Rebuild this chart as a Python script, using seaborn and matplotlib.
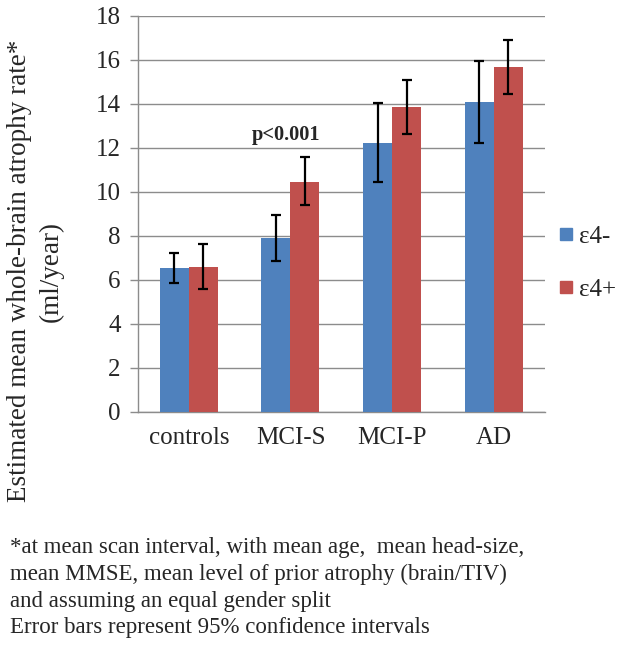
import pandas as pd
import matplotlib.pyplot as plt
import seaborn as sns
from matplotlib.lines import Line2D

# Data
groups = ['controls', 'MCI-S', 'MCI-P', 'AD']
series = ['ε4-', 'ε4+']
rate_neg = [6.53, 7.9, 12.24, 14.1]
rate_pos = [6.6, 10.47, 13.85, 15.7]
ci_low_neg = [5.85, 6.88, 10.47, 12.24]
ci_high_neg = [7.21, 8.95, 14.03, 15.95]
ci_low_pos = [5.58, 9.4, 12.64, 14.47]
ci_high_pos = [7.62, 11.6, 15.09, 16.89]
colors = ['#4F81BD', '#C0504D']
footnote = ("*at mean scan interval, with mean age,  mean head-size,\n"
            "mean MMSE, mean level of prior atrophy (brain/TIV)\n"
            "and assuming an equal gender split\n"
            "Error bars represent 95% confidence intervals")


def main():
    df = pd.DataFrame({
        'group': groups * 2,
        'apoe': [series[0]] * 4 + [series[1]] * 4,
        'rate': rate_neg + rate_pos,
    })

    sns.set_style("white")
    plt.rcParams['font.family'] = ['Liberation Serif', 'DejaVu Serif']

    fig = plt.figure(figsize=(6.24, 6.63), dpi=100)
    ax = fig.add_axes([0.221, 0.3786, 0.652, 0.5974])

    sns.barplot(data=df, x='group', y='rate', hue='apoe', palette=colors,
                saturation=1, width=0.57, gap=0, errorbar=None, linewidth=0,
                legend=False, ax=ax, zorder=3)

    # asymmetric 95% CI error bars
    lows = [ci_low_neg, ci_low_pos]
    highs = [ci_high_neg, ci_high_pos]
    means = [rate_neg, rate_pos]
    bar_sets = list(ax.containers)[:2]
    for k, cont in enumerate(bar_sets):
        xs = [b.get_x() + b.get_width() / 2 for b in cont]
        yerr = [[m - lo for m, lo in zip(means[k], lows[k])],
                [hi - m for m, hi in zip(means[k], highs[k])]]
        ax.errorbar(xs, means[k], yerr=yerr, fmt='none', ecolor='black',
                    elinewidth=1.6, capsize=3.5, capthick=1.6, zorder=4)

    ax.set_ylim(0, 18)
    ax.set_xlim(-0.5, 3.5)
    ax.set_yticks(range(0, 19, 2))
    ax.yaxis.grid(True, color='#8c8c8c', linewidth=1.0, zorder=0)
    ax.xaxis.grid(False)
    for side in ['top', 'right']:
        ax.spines[side].set_visible(False)
    for side in ['left', 'bottom']:
        ax.spines[side].set_color('#8c8c8c')
        ax.spines[side].set_linewidth(1.0)

    ax.set_xticks([-0.5, 0.5, 1.5, 2.5, 3.5], minor=True)
    ax.tick_params(axis='x', which='major', length=0, labelsize=18, pad=11)
    ax.tick_params(axis='x', which='minor', length=6, color='#8c8c8c', width=1)
    ax.tick_params(axis='y', length=6, color='#8c8c8c', width=1,
                   labelsize=18, pad=6.5, left=True)
    ax.set_xlabel('')
    ax.set_ylabel('')

    ax.text(0.96, 12.6, 'p<0.001', ha='center', va='center',
            fontsize=14.7, fontweight='bold')

    fig.text(0.056, 0.591, 'Estimated mean whole-brain atrophy rate*\n(ml/year)',
             rotation=90, ha='center', va='center', multialignment='center',
             fontsize=19.5, linespacing=1.34)

    handles = [Line2D([], [], marker='s', linestyle='none', markersize=9,
                      markerfacecolor=c, markeredgecolor=c) for c in colors]
    fig.legend(handles, series, loc='center left',
               bbox_to_anchor=(0.855, 0.603), frameon=False, fontsize=18,
               handletextpad=0.12, labelspacing=1.23, handlelength=0.8)

    fig.text(0.016, 0.0377, footnote, ha='left', va='bottom', fontsize=16.5,
             linespacing=1.34)

    fig.savefig('out.png', dpi=100)


if __name__ == "__main__":
    main()
